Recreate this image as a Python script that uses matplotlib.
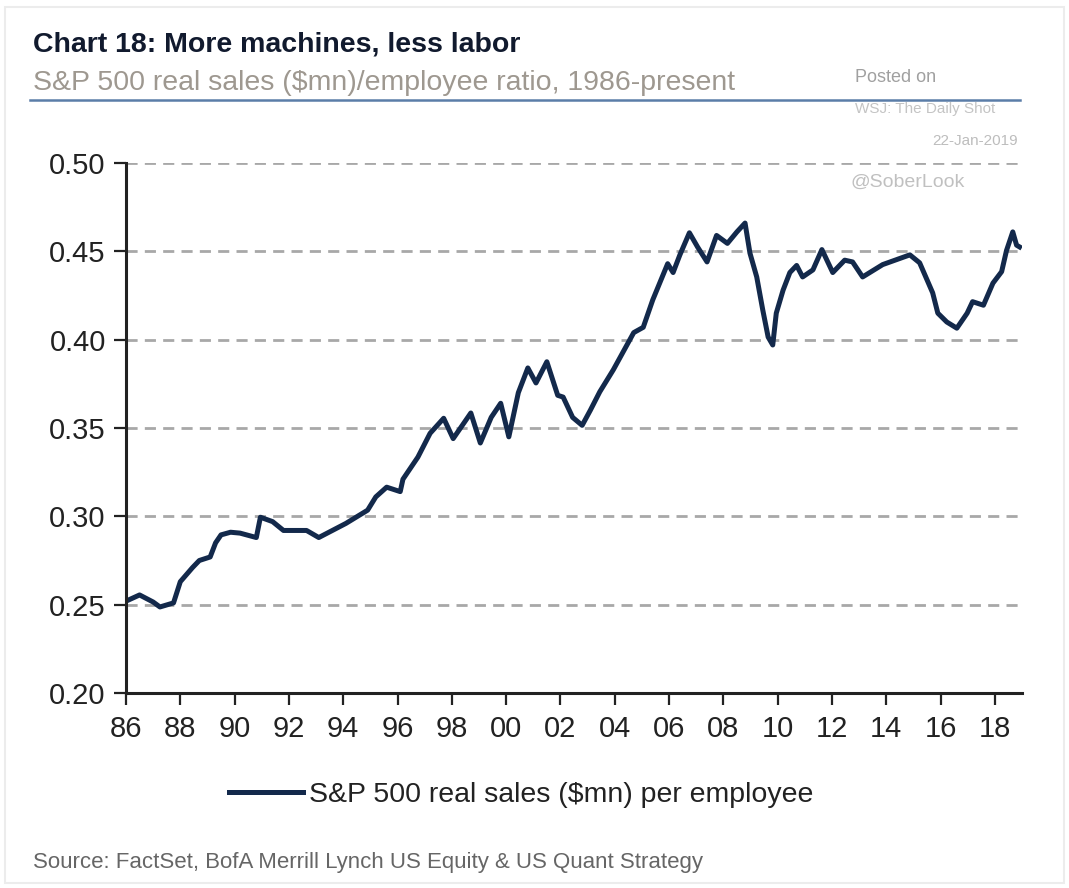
import numpy as np
import matplotlib
matplotlib.use("Agg")
import matplotlib.pyplot as plt
from matplotlib.patches import Rectangle

# S&P 500 real sales ($mn) per employee
years = [1986.0, 1986.5, 1987.0, 1987.25, 1987.75, 1988.0, 1988.45, 1988.7,
         1989.1, 1989.3, 1989.5, 1989.85, 1990.2, 1990.8, 1990.95, 1991.4,
         1991.8, 1992.65, 1993.1, 1993.6, 1994.1, 1994.9, 1995.2, 1995.6,
         1996.1, 1996.2, 1996.75, 1997.2, 1997.7, 1998.05, 1998.7, 1999.05,
         1999.45, 1999.8, 2000.1, 2000.45, 2000.8, 2001.1, 2001.5, 2001.9,
         2002.1, 2002.45, 2002.8, 2003.1, 2003.45, 2003.95, 2004.7, 2005.05,
         2005.4, 2005.95, 2006.15, 2006.4, 2006.75, 2007.05, 2007.4, 2007.75,
         2008.15, 2008.5, 2008.8, 2008.98, 2009.23, 2009.45, 2009.65, 2009.82,
         2009.95, 2010.2, 2010.45, 2010.7, 2010.92, 2011.3, 2011.63, 2012.03,
         2012.47, 2012.76, 2013.13, 2013.87, 2014.87, 2015.23, 2015.71, 2015.9,
         2016.23, 2016.6, 2016.98, 2017.18, 2017.58, 2017.93, 2018.25, 2018.43,
         2018.66, 2018.8, 2018.91]
sales_per_emp = [0.252, 0.2555, 0.2515, 0.2487, 0.251, 0.263, 0.271, 0.275,
                 0.277, 0.285, 0.2895, 0.291, 0.2905, 0.288, 0.2995, 0.297,
                 0.292, 0.292, 0.288, 0.292, 0.296, 0.3035, 0.311, 0.3165,
                 0.314, 0.321, 0.3335, 0.347, 0.3555, 0.344, 0.3585, 0.3415,
                 0.356, 0.364, 0.345, 0.37, 0.384, 0.3755, 0.3875, 0.3685,
                 0.3675, 0.356, 0.3515, 0.36, 0.3705, 0.383, 0.404, 0.407,
                 0.4225, 0.443, 0.438, 0.448, 0.4605, 0.4525, 0.444, 0.459,
                 0.4545, 0.461, 0.466, 0.449, 0.4355, 0.417, 0.4015, 0.397,
                 0.415, 0.428, 0.438, 0.442, 0.4355, 0.4395, 0.451, 0.438,
                 0.445, 0.444, 0.4355, 0.4425, 0.448, 0.4435, 0.4265, 0.415,
                 0.41, 0.4065, 0.415, 0.4215, 0.4195, 0.432, 0.4385, 0.4505,
                 0.461, 0.4535, 0.4525]

xticks = list(range(1986, 2019, 2))
xlabels = ["%02d" % (y % 100) for y in xticks]
yticks = [0.20, 0.25, 0.30, 0.35, 0.40, 0.45, 0.50]

navy = "#13294b"
sans = ["Liberation Sans", "DejaVu Sans"]

fig = plt.figure(figsize=(10.69, 8.88), dpi=100)
W, H = 1069, 888
ax = fig.add_axes([126 / W, 1 - 693 / H, (1022 - 126) / W, (693 - 163) / H])

ax.plot(years, sales_per_emp, color=navy, lw=3.6, solid_joinstyle="round",
        label="S&P 500 real sales ($mn) per employee")

ax.set_xlim(1986, 2019)
ax.set_ylim(0.20, 0.50)
ax.set_xticks(xticks)
ax.set_xticklabels(xlabels)
ax.set_yticks(yticks)
ax.set_yticklabels(["%.2f" % v for v in yticks])
for v in yticks[1:]:
    ax.axhline(v, color="#a8a8a8", lw=2, dashes=(4, 2.6), zorder=0)

for s in ["top", "right"]:
    ax.spines[s].set_visible(False)
for s in ["left", "bottom"]:
    ax.spines[s].set_linewidth(2.2)
    ax.spines[s].set_color("#222222")
ax.tick_params(length=8.5, width=1.6, color="#222222", labelsize=21,
               labelcolor="#222222")
ax.tick_params(axis="x", pad=7)
ax.tick_params(axis="y", pad=6)
for lab in ax.get_xticklabels() + ax.get_yticklabels():
    lab.set_family(sans)

leg = ax.legend(loc="center", bbox_to_anchor=(521 / W, 1 - 795 / H),
                bbox_transform=fig.transFigure, frameon=False,
                handlelength=2.6, handletextpad=0.2,
                prop={"family": sans, "size": 20.5})
for t in leg.get_texts():
    t.set_color("#222222")

fig.text(33 / W, 1 - 45 / H, "Chart 18: More machines, less labor",
         family=sans, weight="bold", size=20.5, color="#111a2e", va="center")
fig.text(33 / W, 1 - 83 / H,
         "S&P 500 real sales ($mn)/employee ratio, 1986-present",
         family=sans, size=20.5, color="#9e9890", va="center")
fig.add_artist(plt.Line2D([30 / W, 1020 / W], [1 - 100 / H, 1 - 100 / H],
                          color="#5b7da8", lw=1.8))
fig.text(33 / W, 1 - 862 / H,
         "Source: FactSet, BofA Merrill Lynch US Equity & US Quant Strategy",
         family=sans, size=16, color="#666666", va="center")

# watermark
fig.text(855 / W, 1 - 77 / H, "Posted on", family=sans,
         size=13, color="#a0a0a0", va="center")
fig.text(855 / W, 1 - 109 / H, "WSJ: The Daily Shot", family=sans,
         size=11, color="#c4c4c4", va="center")
fig.text(1018 / W, 1 - 141 / H, "22-Jan-2019", family=sans,
         size=11, color="#bdbdbd", va="center", ha="right")
fig.text(850 / W, 1 - 182 / H, "@SoberLook", family=sans,
         size=14, color="#c0c0c0", va="center")

# faint frame of the original screenshot
fig.add_artist(Rectangle((5 / W, 5 / H), 1 - 10 / W, 1 - 12 / H,
                         transform=fig.transFigure, fill=False,
                         ec="#ececec", lw=1.5))

fig.savefig("out.png", dpi=100)
